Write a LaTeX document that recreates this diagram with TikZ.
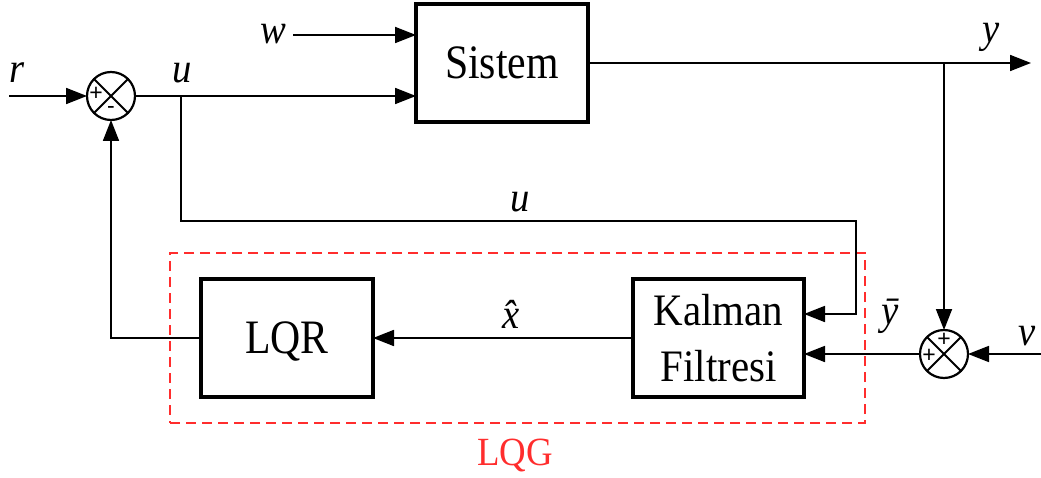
\documentclass[tikz,border=0pt]{standalone}
\usepackage{fontspec}
\setmainfont{Liberation Serif}
\newfontfamily\blockfont[FakeStretch=0.87]{Liberation Serif}
\newfontfamily\kalfont[FakeStretch=0.91]{Liberation Serif}
\newfontfamily\varfont[FakeStretch=0.92]{Liberation Serif}
\newfontfamily\signfont{Liberation Sans}
\usetikzlibrary{arrows.meta}
\definecolor{lqgred}{RGB}{255,45,45}

\tikzset{
  blk/.style={draw, line width=3.3pt, inner sep=0pt, outer sep=0pt,
              minimum width=172pt, minimum height=118pt},
  sumj/.style={draw, circle, line width=2.2pt, minimum size=48pt,
               inner sep=0pt, outer sep=0pt},
  conn/.style={line width=1.8pt},
  sig/.style={conn, -{Triangle[length=21pt,width=16pt]}},
  var/.style={anchor=base, inner sep=0pt,
              font=\varfont\itshape\fontsize{42}{44}\selectfont},
  sgn/.style={inner sep=0pt, font=\signfont\fontsize{23}{23}\selectfont},
  lqgframe/.style={draw=lqgred, line width=1.8pt, dash pattern=on 10pt off 6pt,
                   inner sep=0pt, minimum width=695pt, minimum height=170pt}
}

\begin{document}
\begin{tikzpicture}[x=1pt,y=-1pt]
\useasboundingbox (0,0) rectangle (1041,478);

% blocks
\node[blk, font=\blockfont\fontsize{48}{50}\selectfont] (sys) at (502,63) {Sistem};
\node[blk, text depth=0pt, font=\blockfont\fontsize{48}{50}\selectfont] (lqr) at (287,338) {LQR};
\node[blk, minimum width=171pt, align=center,
      font=\kalfont\fontsize{45}{56}\selectfont] (kal) at (718.5,338)
  {Kalman\\Filtresi};

% LQG frame
\node[lqgframe] (lqgbox) at (517.5,338) {};
\node[anchor=base, inner sep=0pt, text=lqgred,
      font=\varfont\fontsize{40}{40}\selectfont] (lqglbl) at (515,465) {LQG};

% summing junctions
\node[sumj] (s1) at (111,96) {};
\draw[line width=2pt] (s1.north west) -- (s1.south east)
                      (s1.north east) -- (s1.south west);
\node[sgn] (s1p) at (96,94) {+};
\node[sgn] (s1m) at (111,110) {-};

\node[sumj] (s2) at (944,354) {};
\draw[line width=2pt] (s2.north west) -- (s2.south east)
                      (s2.north east) -- (s2.south west);
\node[sgn] (s2p) at (944,340) {+};
\node[sgn] (s2q) at (929,356) {+};

% free ends and bend points
\coordinate (rin) at (9,96);
\coordinate (win) at (293,35);
\coordinate (yend) at (1031,63);
\coordinate (ybr) at (944,63);
\coordinate (vin) at (1041,354);
\coordinate (ubr) at (181,96);
\coordinate (ucn) at (856,221);
\path (kal.east) ++(0,-24) coordinate (kin1);

% connectors
\draw[sig] (rin) -- (s1.west);
\draw[sig] (s1.east) -- (sys.west |- s1.east);
\draw[sig] (win) -- (sys.west |- win);
\draw[sig] (sys.east) -- (yend);
\draw[sig] (ybr) -- (s2.north);
\draw[sig] (vin) -- (s2.east);
\draw[sig] (s2.west) -- (kal.east |- s2.west);
\draw[sig] (ubr) |- (ucn) |- (kin1);
\draw[sig] (kal.west) -- (lqr.east);
\draw[sig] (lqr.west) -| (s1.south);

% signal labels
\node[var] (lr) at (17,83) {r};
\node[var] (lu1) at (182,83) {u};
\node[var] (lw) at (273,44) {w};
\node[var] (ly) at (991,43) {y};
\node[var] (lu2) at (520,212) {u};
\node[var] (lx) at (511,328) {\^{x}};
\node[var] (lyb) at (890,324) {\={y}};
\node[var] (lv) at (1027,345) {v};
\end{tikzpicture}
\end{document}
